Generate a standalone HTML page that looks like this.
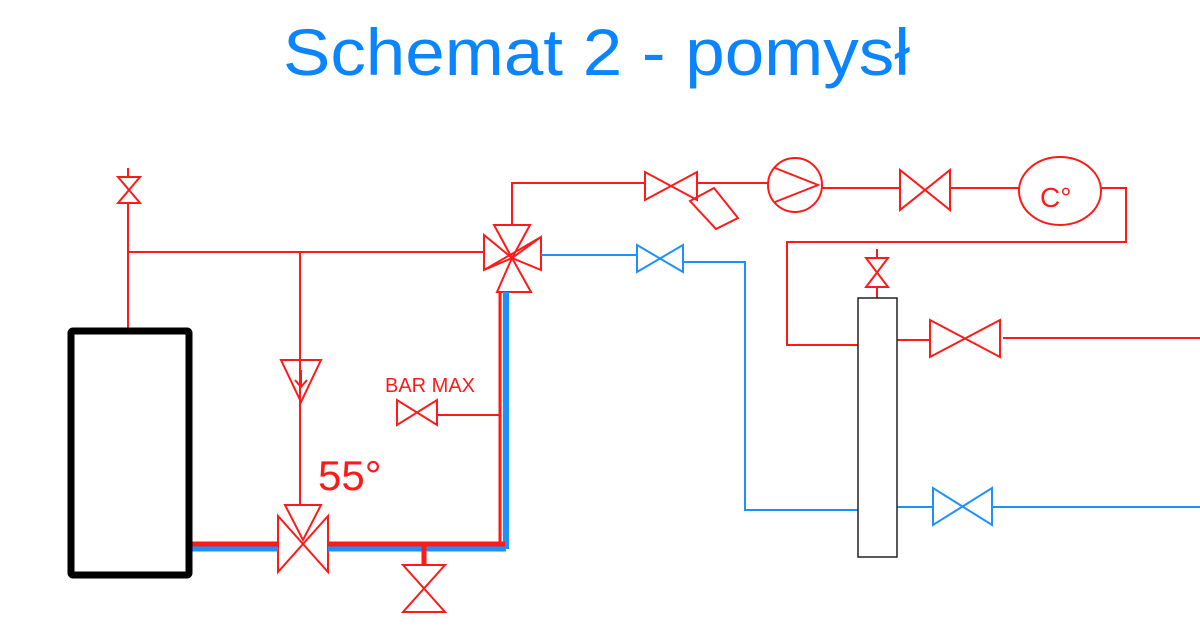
<!DOCTYPE html>
<html><head><meta charset="utf-8"><style>
html,body{margin:0;padding:0;background:#fff;width:1200px;height:627px;overflow:hidden}
</style></head><body>
<svg width="1200" height="627" viewBox="0 0 1200 627" xmlns="http://www.w3.org/2000/svg">
<text x="283" y="75" textLength="627" lengthAdjust="spacingAndGlyphs" font-family="Liberation Sans, DejaVu Sans, sans-serif" font-size="66" fill="#0a84ff">Schemat 2 - pomysł</text>
<g fill="none" stroke="#ff1a1a" stroke-width="2">
<path d="M128,168 v8 M118,177 h22 L118,203 h22 Z"/>
<path d="M128,203 V331"/>
<path d="M128,252 H484"/>
<path d="M300,252 V505"/>
<path d="M281,360 h40 L301,402 Z M301,370 v16 M295,380 l6,7 l6,-7"/>
<path d="M278,516 V572 L328,516 V572 Z M285,505 h36 L303,540 Z"/>
<path d="M403,565 h42 L403,612 h42 Z"/>
<path d="M397,400 V425 L437,400 V425 Z M437,415 H500"/>
<!-- 4-way valve -->
<path d="M494,225 H530 L512,258 Z M497,292 H531 L512,258 Z M484,235 V270 L512,258 Z M541,237 V270 L512,258 Z M541,237 L484,270 M484,235 L512,258"/>
<path d="M512,225 V183 H645"/>
<path d="M645,172 V200 L697,172 V200 Z M697,183 H768"/>
<path d="M690,201 L714,188 L738,218 L716,229 Z"/>
<circle cx="795" cy="185" r="27"/>
<path d="M775,168 L818,185 L775,202"/>
<path d="M822,188 H900 M900,170 V210 L950,170 V210 Z M950,188 H1020"/>
<ellipse cx="1060" cy="191" rx="41" ry="34"/>
<path d="M1100,188 H1126 V242 H787 V345 H858"/>
<path d="M877,249 v8 M866,258 h22 L866,287 h22 Z M877,287 V298"/>
<path d="M897,340 H930 M930,320 V357 L1000,320 V357 Z M1003,338 H1200"/>
</g>
<text x="1040" y="207" font-family="Liberation Sans, sans-serif" font-size="28" fill="#ff1a1a">C°</text>
<text x="385" y="392" font-family="Liberation Sans, sans-serif" font-size="20" fill="#ff1a1a">BAR MAX</text>
<text x="318" y="490" font-family="Liberation Sans, sans-serif" font-size="42" fill="#ff1a1a">55°</text>
<g fill="none" stroke="#1e90ff" stroke-width="2">
<path d="M541,255 H637 M637,245 V272 L683,245 V272 Z M683,262 H745 V510 H858"/>
<path d="M897,507 H933 M933,488 V525 L992,488 V525 Z M992,507 H1200"/>
</g>
<path d="M506,292 V549" stroke="#1e90ff" stroke-width="6"/>
<path d="M500,292 V544" stroke="#ff1a1a" stroke-width="3"/>
<path d="M190,549 H278 M328,549 H506" stroke="#1e90ff" stroke-width="5"/>
<path d="M190,544 H278 M328,544 H505" stroke="#ff1a1a" stroke-width="5"/>
<path d="M424,544 V565" stroke="#ff1a1a" stroke-width="5"/>
<rect x="71" y="331" width="118" height="244" fill="none" stroke="#000" stroke-width="7" rx="2"/>
<rect x="858" y="298" width="39" height="259" fill="#fff" stroke="#222" stroke-width="1.5"/>
</svg>
</body></html>
